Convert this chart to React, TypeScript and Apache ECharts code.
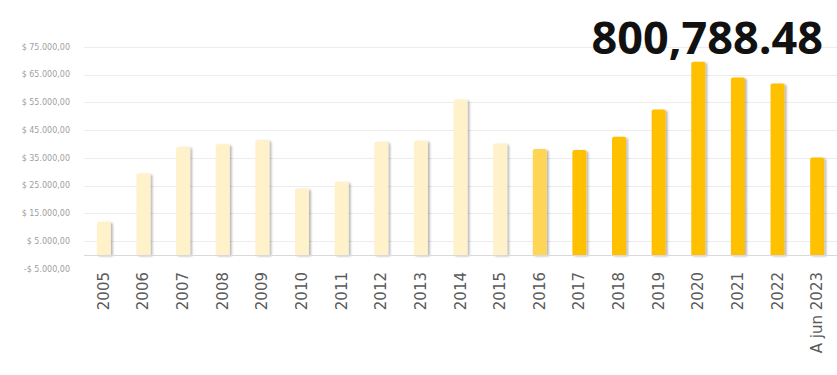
import React, { useEffect, useRef } from "react";
import * as echarts from "echarts";

const categories = [
  "2005", "2006", "2007", "2008", "2009", "2010", "2011", "2012", "2013", "2014",
  "2015", "2016", "2017", "2018", "2019", "2020", "2021", "2022", "A jun 2023",
];
const values = [
  12000, 29450, 39030, 40000, 41450, 24030, 26420, 40840, 41200, 56100,
  40250, 38200, 37840, 42640, 52500, 69670, 64030, 61870, 35200,
];
// colour group per bar: 0 = cream, 1 = mid, 2 = gold
const colorGroups = [0, 0, 0, 0, 0, 0, 0, 0, 0, 0, 0, 1, 2, 2, 2, 2, 2, 2, 2];
const palette = ["#FFF1CA", "#FFD557", "#FFC000"];
const totalLabel = "800,788.48";
const yMin = -5000;
const yMax = 75000;
const yStep = 10000;

function fmtMoney(v: number): string {
  const abs = Math.abs(v);
  const s = abs.toFixed(0).replace(/\B(?=(\d{3})+(?!\d))/g, ".");
  return (v < 0 ? "-$ " : "$ ") + s + ",00";
}

export default function App() {
  const ref = useRef<HTMLDivElement>(null);
  useEffect(() => {
    document.body.style.margin = "0";
    if (!ref.current) return;
    const chart = echarts.init(ref.current, undefined, { renderer: "svg" });
    const nLines = Math.round((yMax - yMin) / yStep) + 1;
    const splitColors: string[] = [];
    for (let i = 0; i < nLines; i++) splitColors.push(i === 0 ? "rgba(0,0,0,0)" : "#ececec");
    chart.setOption({
      animation: false,
      backgroundColor: "#ffffff",
      title: {
        text: totalLabel,
        right: 9,
        top: 9,
        textStyle: {
          fontFamily: "Open Sans",
          fontWeight: "bold",
          fontSize: 45,
          color: "#111111",
        },
      },
      grid: { left: 84, top: 47, width: 764, height: 222 },
      xAxis: {
        type: "category",
        data: categories,
        axisLine: { show: false, onZero: false },
        axisTick: { show: false },
        axisLabel: {
          rotate: 90,
          interval: 0,
          margin: 3,
          fontSize: 15,
          fontFamily: "DejaVu Sans",
          color: "#5a5a5a",
        },
      },
      yAxis: {
        type: "value",
        min: yMin,
        max: yMax,
        interval: yStep,
        axisLine: { show: false },
        axisTick: { show: false },
        splitLine: { lineStyle: { color: splitColors, width: 1 } },
        axisLabel: {
          margin: 14,
          fontSize: 8,
          fontFamily: "DejaVu Sans",
          color: "#a0a0a0",
          formatter: (v: number) => fmtMoney(v),
        },
      },
      series: [
        {
          type: "bar",
          barWidth: 14,
          data: values.map((v, i) => ({
            value: v,
            itemStyle: { color: palette[colorGroups[i]] },
          })),
          itemStyle: {
            borderRadius: [2, 2, 0, 0],
            shadowColor: "rgba(0,0,0,0.28)",
            shadowBlur: 2,
            shadowOffsetX: 2,
            shadowOffsetY: 1,
          },
          markLine: {
            silent: true,
            symbol: "none",
            label: { show: false },
            lineStyle: { color: "#d9d9d9", type: "solid", width: 1 },
            data: [{ yAxis: 0 }],
          },
        },
      ],
    });
    return () => chart.dispose();
  }, []);
  return (
    <div
      ref={ref}
      style={{ position: "absolute", left: 0, top: 0, width: 837, height: 375 }}
    />
  );
}
